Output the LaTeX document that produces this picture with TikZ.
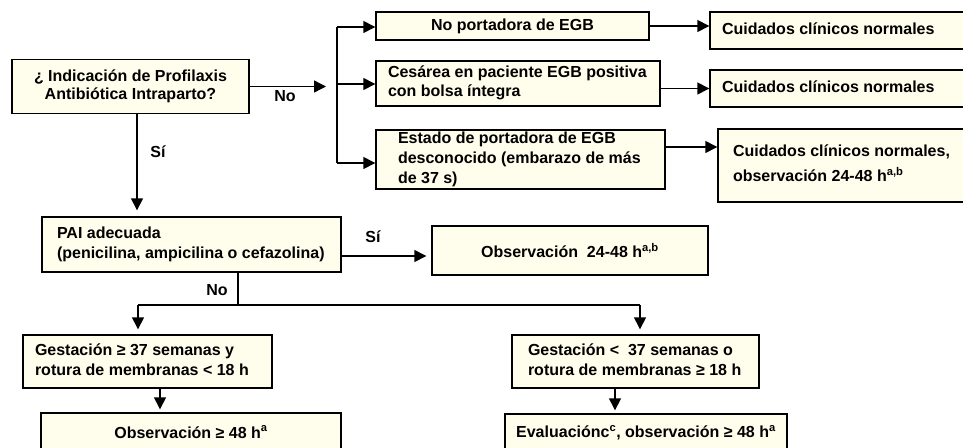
\documentclass[tikz,border=0pt]{standalone}
\usepackage{fontspec}
\setmainfont{Liberation Sans}
\usetikzlibrary{arrows.meta}
\definecolor{cream}{RGB}{255,254,236}
\newcommand{\lbx}[2]{\makebox[#1][l]{\begin{tabular}{@{}l@{}}#2\end{tabular}}}
\tikzset{
  box/.style={draw, line width=1.4pt, fill=cream, inner sep=0pt,
    font=\bfseries\fontsize{16}{18.5}\selectfont},
  lbl/.style={font=\bfseries\fontsize{16}{18.5}\selectfont, inner sep=0pt},
  conn/.style={line width=1.4pt, -{Triangle[length=12pt,width=12pt]}},
  plain/.style={line width=1.4pt}
}
\begin{document}
\begin{tikzpicture}[x=1pt,y=-1pt]
\useasboundingbox (0,0) rectangle (963,447);
\clip (0,0) rectangle (963,447);
% boxes
\node[box, minimum width=237, minimum height=54, align=center] (q) at (130.5,86.5)
  {¿ Indicación de Profilaxis\\Antibiótica Intraparto?};
\node[box, minimum width=273, minimum height=28] (np) at (512.5,26) {No portadora de EGB};
\node[box, minimum width=284, minimum height=45] (ces) at (518,83.5)
  {\lbx{260pt}{Cesárea en paciente EGB positiva\\con bolsa íntegra}};
\node[box, minimum width=289, minimum height=59] (est) at (520.5,159.5)
  {\lbx{245pt}{Estado de portadora de EGB\\[1.5pt]desconocido (embarazo de más\\[1.5pt]de 37 s)}};
\node[box, minimum width=265, minimum height=37] (c1) at (842.5,30.5)
  {\lbx{241pt}{Cuidados clínicos normales}};
\node[box, minimum width=265, minimum height=37] (c2) at (842.5,88.5)
  {\lbx{241pt}{Cuidados clínicos normales}};
\node[box, minimum width=257, minimum height=73] (c3) at (846.5,165.5)
  {\lbx{227pt}{Cuidados clínicos normales,\\[5.5pt]observación 24-48 h\textsuperscript{a,b}}};
\node[box, minimum width=299, minimum height=55] (pai) at (191.5,244.5)
  {\lbx{269pt}{PAI adecuada\\[1.5pt](penicilina, ampicilina o cefazolina)}};
\node[box, minimum width=276, minimum height=49] (obs) at (570,250.5)
  {Observación\ \ 24-48 h\textsuperscript{a,b}};
\node[box, minimum width=249, minimum height=53] (g1) at (147.5,361.5)
  {\lbx{225pt}{Gestación ≥ 37 semanas y\\[1.5pt]rotura de membranas < 18 h}};
\node[box, minimum width=247, minimum height=53] (g2) at (635.5,361.5)
  {\lbx{215pt}{Gestación <\ \ 37 semanas o\\[1.5pt]rotura de membranas ≥ 18 h}};
\node[box, minimum width=300, minimum height=38] (o48) at (191,432)
  {Observación ≥ 48 h\textsuperscript{a}};
\node[box, minimum width=282, minimum height=38] (ev) at (646,433)
  {Evaluaciónc\textsuperscript{c}, observación ≥ 48 h\textsuperscript{a}};
% coordinates
\coordinate (noend) at (326,86.5);
\coordinate (bt) at (337,27);
\coordinate (bm) at (337,84);
\coordinate (bb) at (337,163);
\coordinate (j) at (238,305);
\coordinate (jl) at (138,305);
\coordinate (jr) at (640,305);
% connectors
\draw[conn] (q.east) -- (noend);
\draw[plain] (bt) -- (bb);
\draw[conn] (bt) -- (bt -| np.west);
\draw[conn] (bm) -- (bm -| ces.west);
\draw[conn] (bb) -- (bb -| est.west);
\draw[conn] (np.east) -- (np.east -| c1.west);
\draw[conn] (ces.east |- c2.west) -- (c2.west);
\draw[conn] ([yshift=12.5pt]est.east) -- ([yshift=12.5pt]est.east -| c3.west);
\draw[conn, shorten >=6pt] ([xshift=6.5pt]q.south) -- ([xshift=6.5pt]q.south |- pai.north);
\draw[conn, shorten >=5pt] ([yshift=-11.5pt]pai.east) -- ([yshift=-11.5pt]pai.east -| obs.west);
\draw[plain] (pai.south -| j) -- (j);
\draw[plain] (jl) -- (jr);
\draw[conn, shorten >=5pt] (jl) -- (jl |- g1.north);
\draw[conn, shorten >=5pt] (jr) -- (jr |- g2.north);
\draw[conn, shorten >=3pt] ([xshift=12.5pt]g1.south) -- ([xshift=12.5pt]g1.south |- o48.north);
\draw[conn, shorten >=3pt] ([xshift=-20.5pt]g2.south) -- ([xshift=-20.5pt]g2.south |- ev.north);
% labels
\node[lbl] (lno1) at (285,96) {No};
\node[lbl] (lsi1) at (158,152) {Sí};
\node[lbl] (lsi2) at (373,237) {Sí};
\node[lbl] (lno2) at (217,290) {No};
\end{tikzpicture}
\end{document}
